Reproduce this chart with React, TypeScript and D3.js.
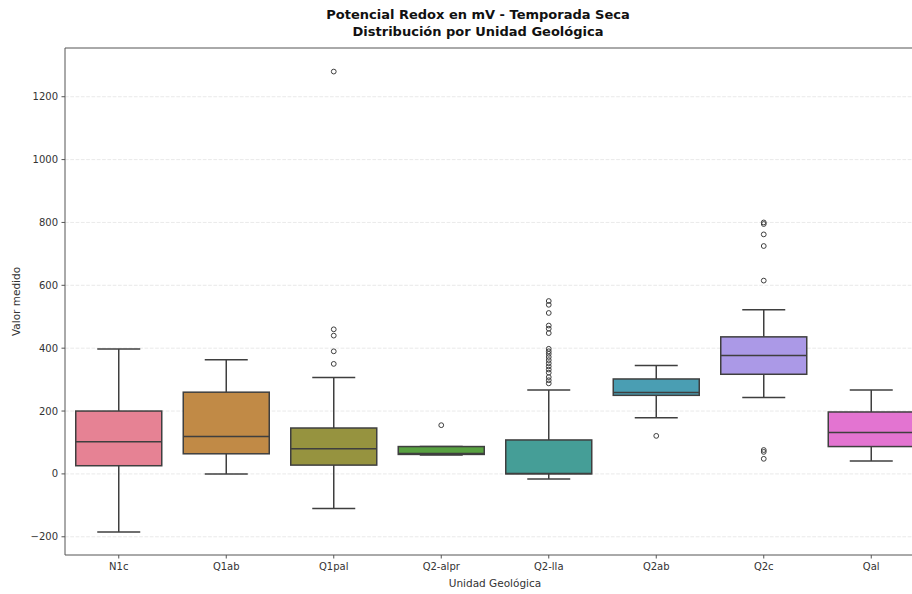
import React from "react";
import * as d3 from "d3";

const categories = ["N1c", "Q1ab", "Q1pal", "Q2-alpr", "Q2-lla", "Q2ab", "Q2c", "Qal"];
const whiskerLow = [-185, 0, -110, 60, -16, 179, 243, 41];
const q1 = [26, 64, 28, 62, 0, 250, 317, 87];
const median = [102, 119, 80, 65, 1, 259, 377, 132];
const q3 = [200, 260, 146, 87, 108, 302, 436, 197];
const whiskerHigh = [397, 363, 307, 87, 267, 345, 522, 267];
const outliers: number[][] = [
  [],
  [],
  [1280, 460, 440, 390, 350],
  [155],
  [550, 538, 512, 472, 462, 448, 398, 390, 382, 372, 362, 352, 342, 332, 322, 308, 298, 288],
  [121],
  [800, 795, 762, 725, 615, 76, 70, 48],
  [],
];
const baseColors = ["#f77189", "#d58c32", "#a4a031", "#50b131", "#36ada4", "#38a9c5", "#a48cf4", "#f561dd"];
const yTicks = [-200, 0, 200, 400, 600, 800, 1000, 1200];

const W = 912, H = 594;
const left = 65, right = 925, top = 48, bottom = 555;
const font = "DejaVu Sans, sans-serif";
const lineCol = "#3f3f3f";

export default function App() {
  const x = d3.scaleBand<string>().domain(categories).range([left, right]).padding(0);
  const y = d3.scaleLinear().domain([-258, 1355]).range([bottom, top]);
  const bw = x.bandwidth();
  const boxW = bw * 0.8;
  const capW = bw * 0.4;
  const colors = baseColors.map((c) => {
    const h = d3.hsl(c);
    h.s *= 0.75;
    return h.formatHex();
  });

  return (
    <svg width={W} height={H} style={{ position: "absolute", left: 0, top: 0, background: "#fff" }} fontFamily={font}>
      <rect x={0} y={0} width={W} height={H} fill="#fff" />
      {yTicks.map((t) => (
        <line key={"g" + t} x1={left} x2={right} y1={y(t)} y2={y(t)} stroke="#b0b0b0" strokeOpacity={0.35} strokeWidth={0.8} strokeDasharray="3.7,1.6" />
      ))}
      {categories.map((c, i) => {
        const cx = x(c)! + bw / 2;
        return (
          <g key={c}>
            <line x1={cx} x2={cx} y1={y(q3[i])} y2={y(whiskerHigh[i])} stroke={lineCol} strokeWidth={1.5} />
            <line x1={cx} x2={cx} y1={y(q1[i])} y2={y(whiskerLow[i])} stroke={lineCol} strokeWidth={1.5} />
            <line x1={cx - capW / 2} x2={cx + capW / 2} y1={y(whiskerHigh[i])} y2={y(whiskerHigh[i])} stroke={lineCol} strokeWidth={1.5} />
            <line x1={cx - capW / 2} x2={cx + capW / 2} y1={y(whiskerLow[i])} y2={y(whiskerLow[i])} stroke={lineCol} strokeWidth={1.5} />
            <rect x={cx - boxW / 2} y={y(q3[i])} width={boxW} height={y(q1[i]) - y(q3[i])} fill={colors[i]} stroke={lineCol} strokeWidth={1.5} />
            <line x1={cx - boxW / 2} x2={cx + boxW / 2} y1={y(median[i])} y2={y(median[i])} stroke={lineCol} strokeWidth={1.5} />
            {outliers[i].map((v, j) => (
              <circle key={j} cx={cx} cy={y(v)} r={2.4} fill="none" stroke={lineCol} strokeWidth={1} />
            ))}
          </g>
        );
      })}
      {/* spines */}
      <line x1={left} x2={left} y1={top} y2={bottom} stroke="#555" strokeWidth={1} />
      <line x1={left} x2={right} y1={bottom} y2={bottom} stroke="#555" strokeWidth={1} />
      <line x1={left} x2={right} y1={top} y2={top} stroke="#555" strokeWidth={1} />
      {yTicks.map((t) => (
        <g key={"t" + t}>
          <line x1={left - 3.5} x2={left} y1={y(t)} y2={y(t)} stroke="#555" />
          <text x={left - 7} y={y(t)} dy="0.35em" textAnchor="end" fontSize={10} fill="#333">
            {t < 0 ? "\u2212" + Math.abs(t) : t}
          </text>
        </g>
      ))}
      {categories.map((c) => {
        const cx = x(c)! + bw / 2;
        return (
          <g key={"x" + c}>
            <line x1={cx} x2={cx} y1={bottom} y2={bottom + 3.5} stroke="#555" />
            <text x={cx} y={bottom + 15} textAnchor="middle" fontSize={10} fill="#333">{c}</text>
          </g>
        );
      })}
      <text x={(left + right) / 2} y={587} textAnchor="middle" fontSize={10.5} fill="#333">Unidad Geológica</text>
      <text transform={`translate(20,${(top + bottom) / 2}) rotate(-90)`} textAnchor="middle" fontSize={10.5} fill="#333">Valor medido</text>
      <text x={478} y={19} textAnchor="middle" fontSize={13} fontWeight="bold" fill="#111">Potencial Redox en mV - Temporada Seca</text>
      <text x={478} y={36} textAnchor="middle" fontSize={13} fontWeight="bold" fill="#111">Distribución por Unidad Geológica</text>
    </svg>
  );
}
